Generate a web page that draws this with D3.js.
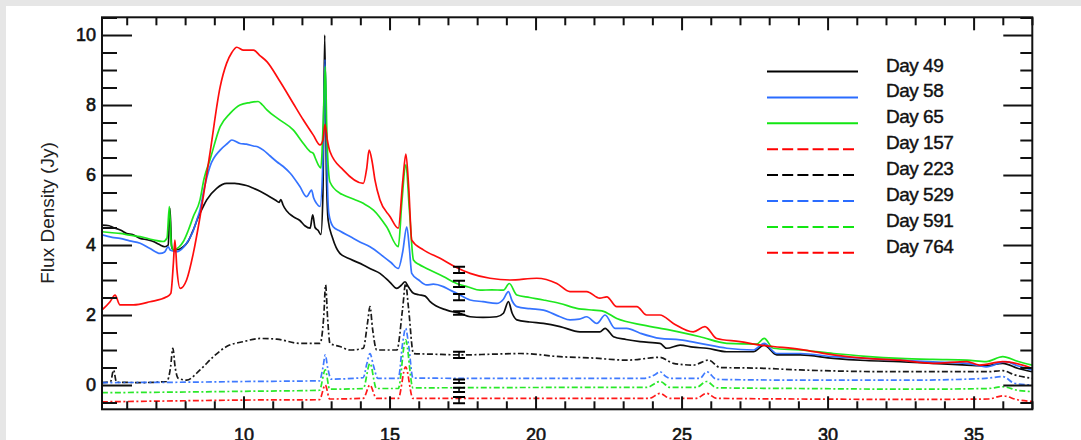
<!DOCTYPE html>
<html>
<head>
<meta charset="utf-8">
<script src="https://cdn.jsdelivr.net/npm/d3@7/dist/d3.min.js"></script>
<style>
body { margin: 0; background: #e6e6e6; overflow: hidden; }
text { font-family: "Liberation Sans", Arial, sans-serif; }
</style>
</head>
<body>
<div id="chart"></div>
<script>
// spectra: [wavelength (micron), flux (Jy)]
var day49 = [[5.15,4.57],[5.4,4.55],[5.54,4.5],[5.8,4.42],[6.0,4.33],[6.2,4.3],[6.46,4.19],[6.7,4.15],[6.91,4.1],[7.1,4.02],[7.31,3.95],[7.42,4.0],[7.48,5.05],[7.54,3.95],[7.6,3.86],[7.8,3.88],[7.94,3.95],[8.1,4.1],[8.28,4.43],[8.45,4.8],[8.62,5.1],[8.74,5.29],[9.08,5.62],[9.42,5.76],[9.7,5.76],[9.88,5.74],[10.1,5.7],[10.34,5.62],[10.6,5.52],[10.8,5.43],[11.1,5.28],[11.22,5.22],[11.28,5.3],[11.35,5.15],[11.7,4.81],[11.93,4.7],[12.1,4.55],[12.28,4.48],[12.37,4.86],[12.45,4.5],[12.55,4.42],[12.65,4.3],[12.72,5.5],[12.78,10.0],[12.84,6.0],[12.9,4.7],[13.05,4.2],[13.3,3.76],[13.65,3.6],[14.1,3.43],[14.4,3.3],[14.67,3.19],[15.0,2.95],[15.25,2.76],[15.4,2.85],[15.53,2.95],[15.65,2.8],[15.82,2.62],[16.0,2.58],[16.22,2.54],[16.39,2.38],[16.96,2.14],[17.4,2.05],[17.76,1.95],[18.2,1.93],[18.67,1.95],[18.9,2.05],[19.07,2.38],[19.2,2.05],[19.36,1.86],[19.8,1.8],[20.27,1.76],[20.84,1.67],[21.52,1.52],[22.2,1.52],[22.38,1.62],[22.67,1.38],[23.1,1.3],[23.58,1.24],[24.26,1.19],[24.49,1.05],[24.95,1.14],[25.4,1.08],[25.86,1.05],[26.55,0.95],[27.46,0.95],[27.83,1.14],[28.26,0.86],[29.06,0.86],[30.2,0.76],[31.3,0.7],[32.48,0.67],[33.6,0.62],[34.77,0.57],[35.4,0.55],[36.0,0.62],[36.5,0.48],[37.0,0.38]];
var day58 = [[5.15,4.29],[5.5,4.22],[5.77,4.19],[6.1,4.12],[6.46,4.05],[6.8,3.9],[7.14,3.76],[7.3,3.8],[7.42,3.95],[7.5,3.85],[7.71,3.81],[7.9,3.9],[8.05,4.05],[8.25,4.35],[8.4,4.71],[8.51,5.0],[8.65,5.6],[8.85,6.24],[9.2,6.71],[9.45,6.9],[9.6,7.0],[9.88,6.9],[10.1,6.88],[10.34,6.83],[10.5,6.8],[10.68,6.71],[10.9,6.55],[11.14,6.38],[11.35,6.25],[11.6,6.05],[11.93,5.67],[12.16,5.38],[12.33,5.57],[12.4,5.35],[12.5,5.19],[12.62,5.1],[12.72,6.5],[12.79,9.3],[12.85,6.5],[12.92,4.9],[13.07,4.52],[13.3,4.4],[13.65,4.24],[14.0,4.08],[14.33,3.95],[14.79,3.67],[15.05,3.5],[15.3,3.33],[15.45,3.8],[15.59,4.52],[15.68,3.9],[15.76,3.19],[16.0,3.0],[16.27,2.86],[16.5,2.88],[16.84,2.81],[17.05,2.72],[17.3,2.62],[17.76,2.43],[18.2,2.38],[18.67,2.33],[18.9,2.45],[19.07,2.67],[19.2,2.4],[19.36,2.24],[19.8,2.18],[20.27,2.14],[20.84,1.95],[21.18,1.86],[21.5,1.88],[21.75,1.95],[22.1,1.76],[22.38,2.0],[22.72,1.62],[23.12,1.62],[23.58,1.48],[24.26,1.33],[24.95,1.29],[25.63,1.19],[26.55,1.05],[27.46,1.0],[27.83,1.19],[28.26,0.9],[29.06,0.9],[30.2,0.81],[31.3,0.76],[32.48,0.71],[33.6,0.66],[34.77,0.62],[35.43,0.52],[36.1,0.67],[36.5,0.55],[37.0,0.43]];
var day65 = [[5.15,4.38],[5.5,4.35],[5.77,4.33],[6.1,4.28],[6.46,4.24],[6.9,4.15],[7.25,4.1],[7.38,4.2],[7.46,5.1],[7.53,4.0],[7.6,3.86],[7.8,3.95],[7.94,4.1],[8.1,4.4],[8.28,4.81],[8.51,5.29],[8.65,5.9],[8.85,6.43],[9.2,7.38],[9.54,7.76],[9.88,8.0],[10.22,8.07],[10.5,8.1],[10.65,8.0],[10.8,7.86],[11.25,7.57],[11.7,7.29],[12.05,6.9],[12.28,6.67],[12.39,6.62],[12.45,6.5],[12.56,6.29],[12.65,6.2],[12.72,7.3],[12.8,9.1],[12.86,7.0],[12.96,5.8],[13.3,5.48],[13.42,5.43],[13.8,5.3],[14.1,5.19],[14.45,5.0],[14.9,4.52],[15.3,3.95],[15.42,5.2],[15.56,6.3],[15.68,5.0],[15.82,3.57],[16.0,3.45],[16.27,3.33],[16.84,3.1],[17.3,2.9],[17.7,2.8],[18.1,2.71],[18.5,2.72],[18.9,2.71],[19.1,2.9],[19.36,2.57],[19.8,2.5],[20.27,2.43],[20.84,2.33],[21.41,2.19],[21.98,2.14],[22.27,2.12],[22.78,1.9],[23.69,1.71],[24.61,1.57],[25.63,1.38],[26.55,1.19],[27.57,1.17],[27.83,1.33],[28.14,1.05],[29.06,1.0],[30.2,0.9],[31.3,0.82],[32.48,0.76],[33.6,0.73],[34.77,0.71],[35.43,0.67],[36.0,0.81],[36.5,0.68],[37.0,0.57]];
var day157 = [[5.15,2.14],[5.43,2.38],[5.6,2.57],[5.77,2.29],[6.23,2.29],[6.8,2.38],[7.37,2.52],[7.51,2.62],[7.6,3.5],[7.65,4.14],[7.72,3.3],[7.83,2.76],[8.05,3.0],[8.28,3.76],[8.51,4.8],[8.85,6.62],[9.2,8.52],[9.42,9.19],[9.6,9.5],[9.77,9.65],[10.0,9.57],[10.34,9.57],[10.55,9.42],[10.8,9.24],[11.25,8.67],[11.7,8.05],[12.05,7.57],[12.39,7.14],[12.62,6.86],[12.72,7.0],[12.79,7.45],[12.87,7.0],[12.96,6.67],[13.42,6.14],[14.1,5.76],[14.22,6.2],[14.3,6.71],[14.4,6.4],[14.5,5.86],[14.67,5.29],[15.02,4.81],[15.3,4.48],[15.45,5.8],[15.56,6.6],[15.66,5.6],[15.76,4.14],[16.16,3.86],[16.73,3.62],[17.24,3.38],[17.76,3.19],[18.44,3.05],[19.13,3.0],[20.04,3.05],[20.73,2.9],[21.18,2.67],[21.75,2.67],[22.2,2.48],[22.44,2.52],[22.78,2.24],[23.47,2.24],[23.8,2.0],[24.26,2.0],[24.72,1.76],[25.4,1.52],[25.8,1.67],[26.2,1.33],[27.0,1.24],[27.69,1.14],[28.14,1.1],[29.06,1.02],[30.2,0.86],[31.34,0.76],[32.48,0.71],[33.62,0.62],[34.77,0.67],[35.2,0.57],[36.0,0.67],[37.0,0.48]];
var day223 = [[5.15,0.07],[5.45,0.1],[5.55,0.43],[5.65,0.08],[6.5,0.07],[7.37,0.1],[7.5,0.5],[7.58,1.05],[7.66,0.5],[7.77,0.19],[8.05,0.14],[8.51,0.43],[8.97,0.81],[9.42,1.1],[10.0,1.24],[10.57,1.33],[11.14,1.31],[11.93,1.19],[12.62,1.19],[12.75,2.0],[12.81,2.86],[12.88,1.9],[12.96,1.19],[13.3,1.1],[13.65,1.0],[14.1,1.05],[14.25,1.8],[14.33,2.24],[14.42,1.6],[14.56,1.0],[15.25,1.0],[15.45,2.2],[15.55,2.9],[15.65,2.2],[15.82,0.9],[16.5,0.88],[17.53,0.86],[18.5,0.88],[19.5,0.9],[20.84,0.81],[21.97,0.77],[23.12,0.71],[24.26,0.79],[24.72,0.62],[25.4,0.57],[25.92,0.71],[26.32,0.5],[27.69,0.48],[29.06,0.43],[32.5,0.38],[35.5,0.38],[36.0,0.41],[36.4,0.29],[37.0,0.19]];
var day529 = [[5.15,0.07],[8.0,0.08],[10.0,0.1],[12.6,0.12],[12.72,0.5],[12.8,0.86],[12.88,0.5],[13.0,0.17],[14.1,0.21],[14.22,0.6],[14.33,0.9],[14.45,0.55],[14.6,0.19],[15.3,0.19],[15.45,1.2],[15.55,1.62],[15.66,1.1],[15.8,0.2],[18.0,0.19],[20.84,0.19],[23.69,0.19],[24.1,0.3],[24.26,0.38],[24.45,0.25],[24.61,0.19],[25.63,0.19],[25.86,0.38],[26.2,0.16],[29.06,0.14],[33.0,0.14],[35.4,0.19],[36.0,0.24],[36.4,0.05],[37.0,0.0]];
var day591 = [[5.15,-0.22],[8.0,-0.2],[10.0,-0.18],[12.6,-0.15],[12.8,0.43],[12.95,-0.12],[14.1,-0.1],[14.33,0.62],[14.55,-0.1],[15.3,-0.1],[15.55,1.29],[15.8,-0.08],[20.84,-0.07],[23.8,-0.07],[24.26,0.1],[24.61,-0.07],[25.5,-0.07],[25.86,0.1],[26.2,-0.08],[29.06,-0.1],[33.0,-0.12],[35.5,-0.1],[36.0,-0.05],[36.5,-0.15],[37.0,-0.19]];
var day764 = [[5.15,-0.48],[8.0,-0.45],[10.0,-0.43],[12.6,-0.42],[12.8,0.0],[12.95,-0.4],[14.1,-0.38],[14.33,0.0],[14.55,-0.38],[15.3,-0.38],[15.55,0.52],[15.8,-0.38],[20.84,-0.38],[23.9,-0.38],[24.26,-0.24],[24.6,-0.38],[25.5,-0.38],[25.86,-0.24],[26.2,-0.38],[29.06,-0.4],[33.0,-0.41],[35.5,-0.4],[36.0,-0.31],[36.5,-0.42],[37.0,-0.47]];

var dayLabels = ['Day 49', 'Day 58', 'Day 65', 'Day 157', 'Day 223', 'Day 529', 'Day 591', 'Day 764'];

// error bars at the module join
var errWave = 17.38;
var errFlux = [2.06, 2.51, 2.89, 3.29, 0.86, 0.11, -0.14, -0.43];
var errHalf = [0.05, 0.09, 0.09, 0.09, 0.09, 0.05, 0.06, 0.09];

var xMajor = [10, 15, 20, 25, 30, 35];
var yMajor = [0, 2, 4, 6, 8, 10];

var width = 1081, height = 440;
var plotL = 102, plotR = 1032.3, plotT = 17.3, plotB = 409.3;

var series = [
	{label: dayLabels[0], data: day49, color: '#000000', dashed: false, solid: true},
	{label: dayLabels[1], data: day58, color: '#2a6cff', dashed: false, solid: true},
	{label: dayLabels[2], data: day65, color: '#12e612', dashed: false, solid: true},
	{label: dayLabels[3], data: day157, color: '#ff0000', dashed: true, solid: true},
	{label: dayLabels[4], data: day223, color: '#000000', dashed: true, solid: false},
	{label: dayLabels[5], data: day529, color: '#2a6cff', dashed: true, solid: false},
	{label: dayLabels[6], data: day591, color: '#12e612', dashed: true, solid: false},
	{label: dayLabels[7], data: day764, color: '#ff0000', dashed: true, solid: false}
];

var svg = d3.select('#chart').append('svg')
	.attr('width', width)
	.attr('height', height);

svg.append('rect')
	.attr('x', 6).attr('y', 6)
	.attr('width', width - 6).attr('height', height - 6)
	.attr('fill', '#ffffff');

var x = d3.scaleLinear().domain([5.154, 37.01]).range([plotL, plotR]);
var y = d3.scaleLinear().domain([-0.694, 10.506]).range([plotB, plotT]);

svg.append('clipPath').attr('id', 'plotclip')
	.append('rect')
		.attr('x', plotL).attr('y', plotT)
		.attr('width', plotR - plotL).attr('height', plotB - plotT);

var line = d3.line()
	.curve(d3.curveMonotoneX)
	.x(function(d) { return x(d[0]); })
	.y(function(d) { return y(d[1]); });

var plot = svg.append('g').attr('clip-path', 'url(#plotclip)');

plot.selectAll('.spec')
	.data(series)
	.enter()
	.append('path')
		.attr('class', 'spec')
		.attr('d', function(d) { return line(d.data); })
		.attr('fill', 'none')
		.attr('stroke', function(d) { return d.color; })
		.attr('stroke-width', 1.7)
		.attr('stroke-linejoin', 'round')
		.attr('stroke-dasharray', function(d) { return d.solid ? null : '6,2.5,2,2.5'; })
		.attr('opacity', function(d) { return d.solid ? 0.95 : 0.9; });

// error bars
var eb = plot.selectAll('.eb')
	.data(errFlux)
	.enter()
	.append('g')
		.attr('class', 'eb');
eb.append('line')
	.attr('x1', x(errWave)).attr('x2', x(errWave))
	.attr('y1', function(d, i) { return y(d - errHalf[i]); })
	.attr('y2', function(d, i) { return y(d + errHalf[i]); })
	.attr('stroke', '#000').attr('stroke-width', 1.5);
eb.append('line')
	.attr('x1', x(errWave) - 6).attr('x2', x(errWave) + 6)
	.attr('y1', function(d, i) { return y(d - errHalf[i]); })
	.attr('y2', function(d, i) { return y(d - errHalf[i]); })
	.attr('stroke', '#000').attr('stroke-width', 2);
eb.append('line')
	.attr('x1', x(errWave) - 6).attr('x2', x(errWave) + 6)
	.attr('y1', function(d, i) { return y(d + errHalf[i]); })
	.attr('y2', function(d, i) { return y(d + errHalf[i]); })
	.attr('stroke', '#000').attr('stroke-width', 2);

// axes
var xMinor = d3.range(6, 38, 1).filter(function(v) { return xMajor.indexOf(v) < 0; });
var yMinor = d3.range(-0.5, 10.6, 0.5).filter(function(v) { return yMajor.indexOf(v) < 0; });

function styleAxis(g) {
	g.select('.domain').remove();
	g.selectAll('.tick line').attr('stroke', '#111').attr('stroke-width', 2);
	g.selectAll('.tick text')
		.attr('fill', '#111')
		.attr('stroke', '#111')
		.attr('stroke-width', 0.6)
		.style('font-size', '18px');
}

svg.append('g').attr('transform', 'translate(0,' + plotB + ')')
	.call(d3.axisBottom(x).tickValues(xMinor).tickSizeInner(-8).tickSizeOuter(0).tickFormat(''))
	.call(styleAxis);
svg.append('g').attr('class', 'xaxis').attr('transform', 'translate(0,' + plotB + ')')
	.call(d3.axisBottom(x).tickValues(xMajor).tickSizeInner(-13).tickSizeOuter(0).tickPadding(19))
	.call(styleAxis);
svg.append('g').attr('transform', 'translate(0,' + plotT + ')')
	.call(d3.axisTop(x).tickValues(xMinor).tickSizeInner(-8).tickSizeOuter(0).tickFormat(''))
	.call(styleAxis);
svg.append('g').attr('transform', 'translate(0,' + plotT + ')')
	.call(d3.axisTop(x).tickValues(xMajor).tickSizeInner(-13).tickSizeOuter(0).tickFormat(''))
	.call(styleAxis);

svg.append('g').attr('transform', 'translate(' + plotL + ',0)')
	.call(d3.axisLeft(y).tickValues(yMinor).tickSizeInner(-15).tickSizeOuter(0).tickFormat(''))
	.call(styleAxis);
svg.append('g').attr('transform', 'translate(' + plotL + ',0)')
	.call(d3.axisLeft(y).tickValues(yMajor).tickSizeInner(-30).tickSizeOuter(0).tickPadding(6))
	.call(styleAxis);
svg.append('g').attr('transform', 'translate(' + plotR + ',0)')
	.call(d3.axisRight(y).tickValues(yMinor).tickSizeInner(-12).tickSizeOuter(0).tickFormat(''))
	.call(styleAxis);
svg.append('g').attr('transform', 'translate(' + plotR + ',0)')
	.call(d3.axisRight(y).tickValues(yMajor).tickSizeInner(-29).tickSizeOuter(0).tickFormat(''))
	.call(styleAxis);

// frame
svg.append('rect')
	.attr('x', plotL).attr('y', plotT)
	.attr('width', plotR - plotL).attr('height', plotB - plotT)
	.attr('fill', 'none')
	.attr('stroke', '#111')
	.attr('stroke-width', 2);

svg.append('text')
	.attr('transform', 'translate(54,' + 213 + ') rotate(-90)')
	.attr('text-anchor', 'middle')
	.attr('fill', '#222')
	.style('font-size', '19px')
	.text('Flux Density (Jy)');

// legend
var legend = svg.append('g').attr('class', 'legend');
var rows = legend.selectAll('g')
	.data(series)
	.enter()
	.append('g')
		.attr('transform', function(d, i) { return 'translate(0,' + (71.5 + i * 25.9) + ')'; });
rows.append('line')
	.attr('x1', 767).attr('x2', 858)
	.attr('stroke', function(d) { return d.color; })
	.attr('stroke-width', 2)
	.attr('stroke-dasharray', function(d) { return d.dashed ? '11,4.2' : null; });
rows.append('text')
	.attr('x', 886)
	.attr('y', 0)
	.attr('fill', '#111')
	.attr('stroke', '#111')
	.attr('stroke-width', 0.4)
	.attr('letter-spacing', '-0.5')
	.style('font-size', '19px')
	.text(function(d) { return d.label; });
</script>
</body>
</html>
